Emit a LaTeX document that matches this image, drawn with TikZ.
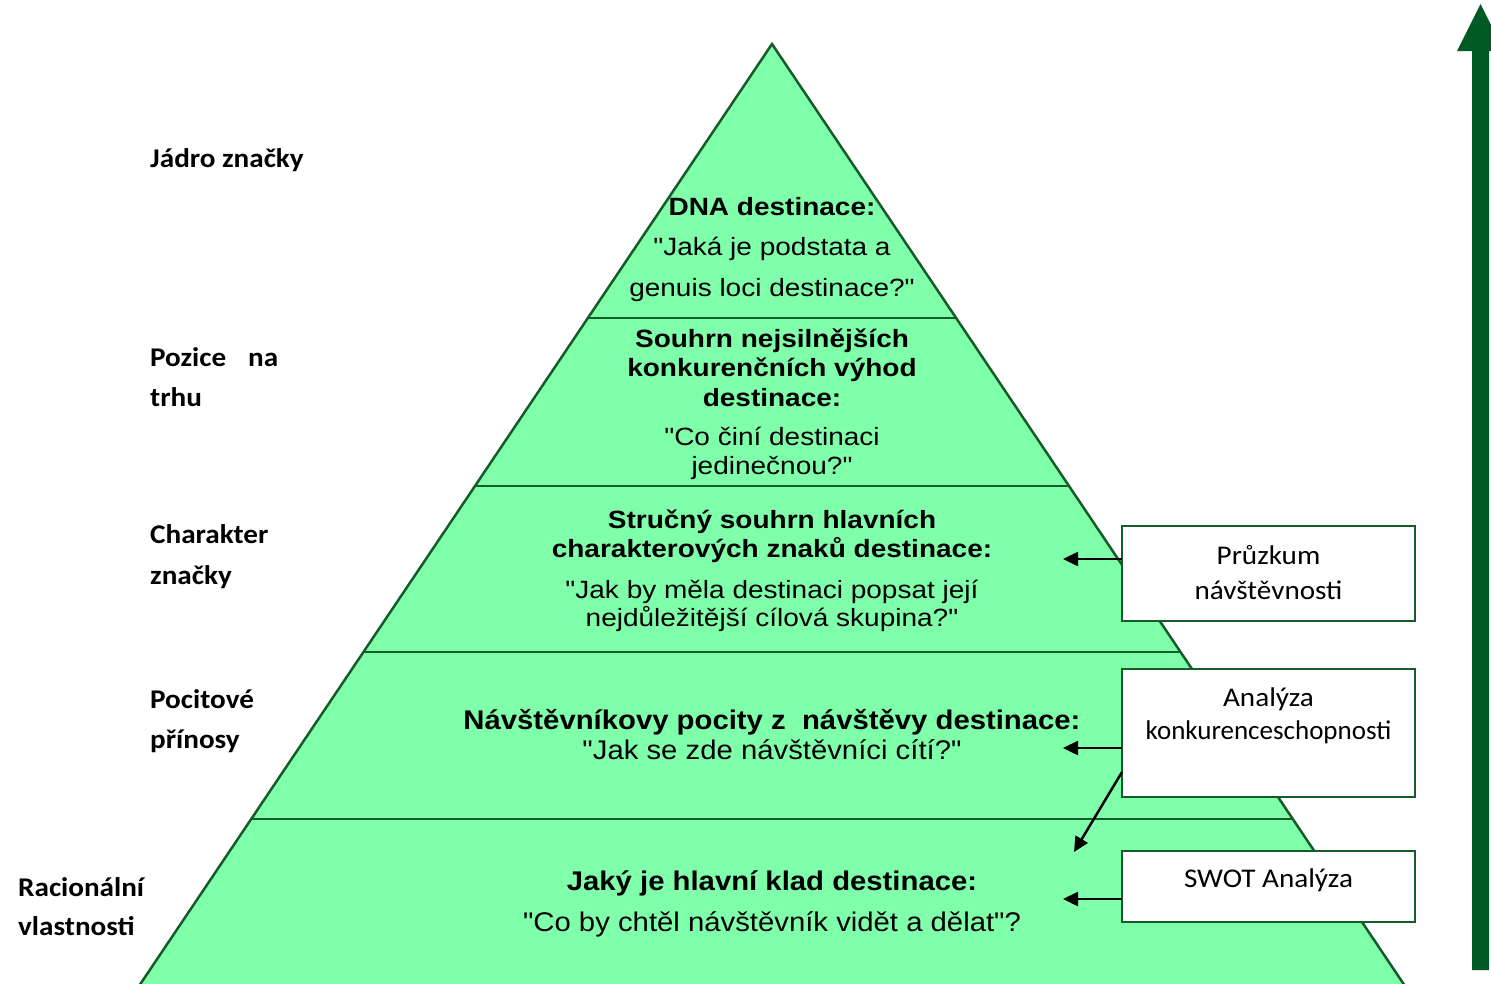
\documentclass[tikz,border=0pt]{standalone}
\usepackage{fontspec}
\setmainfont{Liberation Sans}
% slightly widened faces for the pyramid, the side labels and the boxes
\newfontfamily\pyrupper{Liberation Sans}[FakeStretch=1.12]
\newfontfamily\pyrlower{Liberation Sans}[FakeStretch=1.085]
\newfontfamily\calfont{Carlito}[FakeStretch=1.08]
\newfontfamily\calplain{Carlito}
\usetikzlibrary{arrows.meta}

\definecolor{pyrfill}{RGB}{128,255,170}
\definecolor{pyredge}{RGB}{22,92,42}
\definecolor{bigarrow}{RGB}{0,90,35}

\begin{document}
\begin{tikzpicture}[x=1pt,y=-1pt,
  divider/.style={draw=pyredge, line width=2.5pt},
  head/.style={font=\pyrupper\fontsize{25}{30}\selectfont\bfseries, anchor=base, inner sep=0pt},
  body/.style={font=\pyrupper\fontsize{25}{30}\selectfont, anchor=base, inner sep=0pt},
  headL/.style={font=\pyrlower\fontsize{27}{30}\selectfont\bfseries, anchor=base, inner sep=0pt},
  bodyL/.style={font=\pyrlower\fontsize{27}{30}\selectfont, anchor=base, inner sep=0pt},
  side/.style={font=\calfont\fontsize{27}{30}\selectfont\bfseries, anchor=base west, inner sep=0pt},
  boxtext/.style={font=\calfont\fontsize{27}{30}\selectfont, anchor=base, inner sep=0pt},
  toolbox/.style={draw=pyredge, line width=1.6pt, fill=white, minimum width=293pt, inner sep=0pt, outer sep=0pt},
  conn/.style={draw=black, line width=2.5pt, -{Triangle[length=15pt,width=14pt]}}]

\useasboundingbox (0,0) rectangle (1491,983);
\clip (0,0) rectangle (1491,983);

% pyramid body
\coordinate (apex) at (772,44);
\filldraw[fill=pyrfill, draw=pyredge, line width=2.5pt]
  (apex) -- (129.6,1000) -- (1414.4,1000) -- cycle;

% layer dividers (edge slope 0.672 px per px)
\foreach \yy in {318, 486, 652, 819}{
  \pgfmathsetmacro{\dx}{0.672*(\yy-44)}
  \draw[divider] (772-\dx,\yy) -- (772+\dx,\yy);
}

% layer 1
\node[head] (t1a) at (772,215) {DNA destinace:};
\node[body] (t1b) at (772,255) {"Jaká je podstata a};
\node[body] (t1c) at (772,296) {genuis loci destinace?"};
% layer 2
\node[head] (t2a) at (772,347) {Souhrn nejsilnějších};
\node[head] (t2b) at (772,376) {konkurenčních výhod};
\node[head] (t2c) at (772,406) {destinace:};
\node[body] (t2d) at (772,445) {"Co činí destinaci};
\node[body] (t2e) at (772,474) {jedinečnou?"};
% layer 3
\node[head] (t3a) at (772,528) {Stručný souhrn hlavních};
\node[head] (t3b) at (772,557) {charakterových znaků destinace:};
\node[body] (t3c) at (772,598) {"Jak by měla destinaci popsat její};
\node[body] (t3d) at (772,626) {nejdůležitější cílová skupina?"};
% layer 4
\node[headL] (t4a) at (772,729) {Návštěvníkovy pocity z\ \ návštěvy destinace:};
\node[bodyL] (t4b) at (772,759) {"Jak se zde návštěvníci cítí?"};
% layer 5
\node[headL] (t5a) at (772,890) {Jaký je hlavní klad destinace:};
\node[bodyL] (t5b) at (772,931) {"Co by chtěl návštěvník vidět a dělat"?};

% side labels
\node[side] (s1) at (150,167) {Jádro značky};
\node[side] (s2a) at (150,366) {Pozice\hspace{22pt}na};
\node[side] (s2b) at (150,406) {trhu};
\node[side] (s3a) at (150,543) {Charakter};
\node[side] (s3b) at (150,584) {značky};
\node[side] (s4a) at (150,708) {Pocitové};
\node[side] (s4b) at (150,748) {přínosy};
\node[side] (s5a) at (18,896) {Racionální};
\node[side] (s5b) at (18,935) {vlastnosti};

% research boxes
\node[toolbox, minimum height=95pt] (pruzkum) at (1268.5,573.5) {};
\node[boxtext] (pruzkumA) at (1268.5,564) {Průzkum};
\node[boxtext] (pruzkumB) at (1268.5,599) {návštěvnosti};

\node[toolbox, minimum height=128pt] (analyza) at (1268.5,733) {};
\node[boxtext] (analyzaA) at (1268.5,706) {Analýza};
\node[boxtext, font=\calplain\fontsize{27}{30}\selectfont] (analyzaB) at (1268.5,739) {konkurenceschopnosti};

\node[toolbox, minimum height=71pt] (swot) at (1268.5,886.5) {};
\node[boxtext] (swotA) at (1268.5,887) {SWOT Analýza};

% connectors into the pyramid
\coordinate (e1) at (1063,559);
\coordinate (e2) at (1063,748);
\coordinate (e3) at (1074,852);
\coordinate (e4) at (1063,899);
\draw[conn] ([yshift=-33pt]pruzkum.north west) -- (e1);
\draw[conn] ([yshift=-79pt]analyza.north west) -- (e2);
\draw[conn] ([yshift=-103pt]analyza.north west) -- (e3);
\draw[conn] ([yshift=-48pt]swot.north west) -- (e4);

% upward arrow
\fill[bigarrow] (1472,970) -- (1472,51) -- (1457,51) -- (1480.5,4)
  -- (1504,51) -- (1489,51) -- (1489,970) -- cycle;
\end{tikzpicture}
\end{document}
